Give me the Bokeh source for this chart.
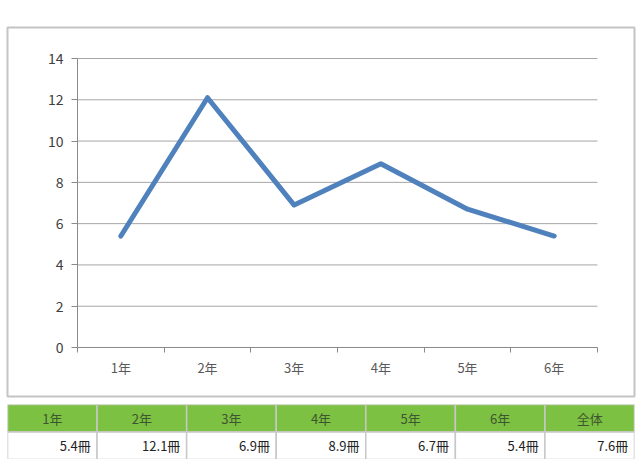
from bokeh.plotting import figure
from bokeh.models import FixedTicker, Range1d, ColumnDataSource
from bokeh.layouts import column
from bokeh.embed import file_html
from bokeh.resources import INLINE
from bokeh.core.properties import value

grades = ["1年", "2年", "3年", "4年", "5年", "6年"]
books = [5.4, 12.1, 6.9, 8.9, 6.7, 5.4]
y_ticks = [0, 2, 4, 6, 8, 10, 12, 14]
table_headers = ["1年", "2年", "3年", "4年", "5年", "6年", "全体"]
table_values = ["5.4冊", "12.1冊", "6.9冊", "8.9冊", "6.7冊", "5.4冊", "7.6冊"]

FONT = "Noto Sans CJK JP"
GRAY = "#8a8a8a"

n_cat = len(grades)
xs = [i + 0.5 for i in range(n_cat)]
bounds = list(range(n_cat + 1))
y_max = y_ticks[-1]

# frame is the outer chart box; the plot area sits inside it
p = figure(width=640, height=400,
           x_range=Range1d(-0.808, n_cat + 0.427), y_range=Range1d(-2.374, y_max + 1.502),
           output_backend="svg", toolbar_location=None,
           min_border_left=7, min_border_right=6, min_border_top=27, min_border_bottom=4)
p.outline_line_color = "#c4c4c4"
p.outline_line_width = 2
p.background_fill_color = "white"
p.border_fill_color = "white"
p.xgrid.visible = False
p.ygrid.visible = False

# horizontal gridlines across the plot area
p.segment(x0=[0] * len(y_ticks), x1=[n_cat] * len(y_ticks), y0=y_ticks, y1=y_ticks,
          line_color="#a6a6a6", line_width=1)

p.line(xs, books, line_color="#4f81bd", line_width=5, line_join="round", line_cap="round")

# x axis: labels at centers, ticks at category boundaries
p.xaxis.fixed_location = 0
p.xaxis.bounds = (0, n_cat)
p.xaxis.ticker = FixedTicker(ticks=xs, minor_ticks=bounds)
p.xaxis.major_label_overrides = {x: g for x, g in zip(xs, grades)}
p.xaxis.major_tick_line_color = None
p.xaxis.major_tick_out = 0
p.xaxis.major_tick_in = 0
p.xaxis.minor_tick_out = 5
p.xaxis.minor_tick_in = 0
p.xaxis.minor_tick_line_color = GRAY
p.xaxis.axis_line_color = GRAY
p.xaxis.major_label_standoff = 6
p.xaxis.major_label_text_font = FONT
p.xaxis.major_label_text_font_size = "13px"
p.xaxis.major_label_text_color = "#595959"

p.yaxis.fixed_location = 0
p.yaxis.bounds = (0, y_max)
p.yaxis.ticker = FixedTicker(ticks=y_ticks)
p.yaxis.major_tick_out = 6
p.yaxis.major_tick_in = 0
p.yaxis.major_tick_line_color = GRAY
p.yaxis.minor_tick_line_color = None
p.yaxis.axis_line_color = GRAY
p.yaxis.major_label_standoff = 8
p.yaxis.major_label_text_font = FONT
p.yaxis.major_label_text_font_size = "14px"
p.yaxis.major_label_text_color = "#404040"

# table
n = len(table_headers)
t = figure(width=640, height=59, x_range=Range1d(0, n), y_range=Range1d(0, 2),
           output_backend="svg", toolbar_location=None,
           min_border_left=7, min_border_right=6, min_border_top=4, min_border_bottom=0)
t.outline_line_color = None
t.axis.visible = False
t.grid.visible = False

cols = list(range(n))
head_src = ColumnDataSource(dict(left=cols, right=[c + 1 for c in cols],
                                 bottom=[1] * n, top=[2] * n,
                                 x=[c + 0.5 for c in cols], y=[1.5] * n, text=table_headers))
val_src = ColumnDataSource(dict(left=cols, right=[c + 1 for c in cols],
                                bottom=[0] * n, top=[1] * n,
                                x=[c + 0.93 for c in cols], y=[0.5] * n, text=table_values))
t.quad(left="left", right="right", bottom="bottom", top="top", source=head_src,
       fill_color="#7dc142", line_color="#c8c8c8", line_width=1.5)
t.quad(left="left", right="right", bottom="bottom", top="top", source=val_src,
       fill_color="white", line_color="#c8c8c8", line_width=1.5)
t.text(x="x", y="y", text="text", source=head_src, text_align="center", text_baseline="middle",
       text_font=value(FONT), text_font_size="13px", text_color="#3d5530")
t.text(x="x", y="y", text="text", source=val_src, text_align="right", text_baseline="middle",
       text_font=value(FONT), text_font_size="13px", text_color="#222222")

layout = column(p, t)
open("out.html", "w").write(file_html(layout, INLINE))
